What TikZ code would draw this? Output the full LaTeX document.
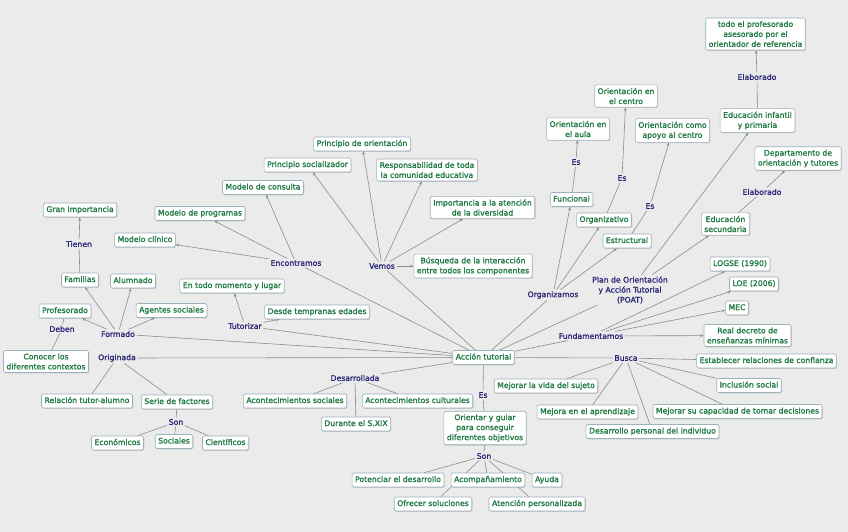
\documentclass[tikz,border=0pt]{standalone}
\usepackage{fontspec}
\setmainfont{DejaVu Sans}[FakeBold=1.5]
\usetikzlibrary{arrows.meta,shadows,backgrounds}
\definecolor{bgc}{HTML}{EBEBEB}
\definecolor{cg}{HTML}{1F7A43}
\definecolor{lb}{HTML}{2B2878}
\definecolor{bd}{HTML}{9DB0BE}
\definecolor{lnc}{HTML}{8C8C8C}
\tikzset{
 concept/.style={draw=bd, line width=0.6pt, fill=white, rounded corners=1.5pt, text=cg,
   font=\fontsize{7.7}{10}\selectfont, align=center, inner xsep=3pt, inner ysep=3pt,
   drop shadow={shadow xshift=0.8pt, shadow yshift=-0.8pt, fill=black, opacity=0.15}},
 one/.style={concept, text height=6pt, text depth=2pt},
 link/.style={text=lb, font=\fontsize{7.7}{10}\selectfont, align=center, inner sep=1.5pt},
 con/.style={draw=lnc, line width=0.6pt},
 arr/.style={con, -{Stealth[length=3.5pt,width=2.8pt]}},
}
\begin{document}
\begin{tikzpicture}[x=1pt,y=-1pt]
\useasboundingbox (0,0) rectangle (848,532);
% concepts
\node[concept] (todo) at (755.5,34) {todo el profesorado\\asesorado por el\\orientador de referencia};
\node[link] (elab1) at (757,77) {Elaborado};
\node[concept] (infantil) at (757.5,120.5) {Educación infantil\\y primaria};
\node[concept] (centro) at (626,96) {Orientación en\\el centro};
\node[concept] (aula) at (578,129) {Orientación en\\el aula};
\node[concept] (apoyo) at (672.5,130.5) {Orientación como\\apoyo al centro};
\node[concept] (depto) at (798,158.5) {Departamento de\\orientación y tutores};
\node[link] (elab2) at (762,192) {Elaborado};
\node[concept] (secundaria) at (725.5,224) {Educación\\secundaria};
\node[link] (esa) at (576,162) {Es};
\node[link] (esc) at (622,178) {Es};
\node[link] (esp) at (650,206) {Es};
\node[one] (funcional) at (571.5,199.5) {Funcional};
\node[one] (organizativo) at (604,220) {Organizativo};
\node[one] (estructural) at (627,241) {Estructural};
\node[link] (organizamos) at (553,295) {Organizamos};
\node[link] (poat) at (630,290) {Plan de Orientación\\y Acción Tutorial\\(POAT)};
\node[one] (logse) at (740,264) {LOGSE (1990)};
\node[one] (loe) at (754,284) {LOE (2006)};
\node[one] (mec) at (737,308) {MEC};
\node[concept] (real) at (747.5,335.5) {Real decreto de\\enseñanzas mínimas};
\node[link] (fund) at (591,336) {Fundamentamos};
\node[link] (busca) at (626,358) {Busca};
\node[one] (establecer) at (766.5,361) {Establecer relaciones de confianza};
\node[one] (inclusion) at (749,385.5) {Inclusión social};
\node[one] (capacidad) at (737.5,411.5) {Mejorar su capacidad de tomar decisiones};
\node[one] (desarrollo) at (652.5,431.5) {Desarrollo personal del individuo};
\node[one] (aprendizaje) at (587.5,412) {Mejora en el aprendizaje};
\node[one] (vida) at (546,386) {Mejorar la vida del sujeto};
\node[one] (at) at (483.5,357.5) {Acción tutorial};
\node[link] (es1) at (483,395) {Es};
\node[concept] (orientar) at (485,428) {Orientar y guiar\\para conseguir\\diferentes objetivos};
\node[link] (son1) at (484,456) {Son};
\node[one] (potenciar) at (398,480) {Potenciar el desarrollo};
\node[one] (acomp) at (488,480) {Acompañamiento};
\node[one] (ayuda) at (547,480) {Ayuda};
\node[one] (ofrecer) at (433,504) {Ofrecer soluciones};
\node[one] (atencion) at (537,504) {Atención personalizada};
\node[link] (desarrollada) at (355,378) {Desarrollada};
\node[one] (acsoc) at (295,401) {Acontecimientos sociales};
\node[one] (accult) at (417.5,401) {Acontecimientos culturales};
\node[one] (durante) at (356,424) {Durante el S.XIX};
\node[link] (originada) at (117,358) {Originada};
\node[one] (relacion) at (87,401) {Relación tutor-alumno};
\node[one] (serie) at (177,402) {Serie de factores};
\node[link] (son2) at (176,422) {Son};
\node[one] (economicos) at (117.5,443) {Económicos};
\node[one] (sociales) at (174,441.5) {Sociales};
\node[one] (cientificos) at (225.5,443) {Científicos};
\node[concept] (conocer) at (46,361.5) {Conocer los\\diferentes contextos};
\node[link] (deben) at (62,329) {Deben};
\node[one] (profesorado) at (65,311) {Profesorado};
\node[link] (formado) at (118,334) {Formado};
\node[one] (familias) at (80,280) {Familias};
\node[one] (alumnado) at (133,281) {Alumnado};
\node[one] (agentes) at (171.5,310.5) {Agentes sociales};
\node[link] (tienen) at (79,244) {Tienen};
\node[one] (gran) at (80,210) {Gran importancia};
\node[one] (clinico) at (145,240) {Modelo clínico};
\node[one] (programas) at (200,213.5) {Modelo de programas};
\node[one] (consulta) at (263,187.5) {Modelo de consulta};
\node[link] (encontramos) at (296,263) {Encontramos};
\node[one] (socializador) at (307.5,165) {Principio socializador};
\node[one] (orientacion) at (362,144) {Principio de orientación};
\node[concept] (respons) at (427,170) {Responsabilidad de toda\\la comunidad educativa};
\node[concept] (importancia) at (482.5,207.5) {Importancia a la atención\\de la diversidad};
\node[link] (vemos) at (382,266) {Vemos};
\node[concept] (busqueda) at (473,266) {Búsqueda de la interacción\\entre todos los componentes};
\node[one] (entodo) at (232,286) {En todo momento y lugar};
\node[one] (desde) at (317,312) {Desde tempranas edades};
\node[link] (tutorizar) at (245,326) {Tutorizar};
% connectors
\begin{pgfonlayer}{background}
\fill[bgc] (0,0) rectangle (848,532);
\foreach \n in {formado,originada,encontramos,vemos,tutorizar,organizamos,poat,fund,busca,desarrollada,es1}
  \draw[con] (at) -- (\n);
\foreach \n in {profesorado,familias,alumnado,agentes} \draw[arr] (formado) -- (\n);
\draw[con] (familias) -- (tienen);
\draw[arr] (tienen) -- (gran);
\draw[con] (profesorado) -- (deben);
\draw[con] (deben) -- (conocer);
\foreach \n in {relacion,serie} \draw[con] (originada) -- (\n);
\draw[con] (serie) -- (son2);
\foreach \n in {economicos,sociales,cientificos} \draw[con] (son2) -- (\n);
\foreach \n in {clinico,programas,consulta} \draw[arr] (encontramos) -- (\n);
\foreach \n in {socializador,orientacion,respons,importancia,busqueda} \draw[arr] (vemos) -- (\n);
\foreach \n in {entodo,desde} \draw[arr] (tutorizar) -- (\n);
\foreach \n in {funcional,organizativo,estructural} \draw[arr] (organizamos) -- (\n);
\draw[con] (funcional) -- (esa);
\draw[arr] (esa) -- (aula);
\draw[con] (organizativo) -- (esc);
\draw[arr] (esc) -- (centro);
\draw[con] (estructural) -- (esp);
\draw[arr] (esp) -- (apoyo);
\foreach \n in {infantil,secundaria} \draw[arr] (poat) -- (\n);
\draw[con] (infantil) -- (elab1);
\draw[arr] (elab1) -- (todo);
\draw[con] (secundaria) -- (elab2);
\draw[arr] (elab2) -- (depto);
\foreach \n in {logse,loe,mec,real} \draw[arr] (fund) -- (\n);
\foreach \n in {establecer,inclusion,capacidad,desarrollo,aprendizaje,vida} \draw[con] (busca) -- (\n);
\foreach \n in {acsoc,accult,durante} \draw[con] (desarrollada) -- (\n);
\draw[con] (es1) -- (orientar);
\draw[con] (orientar) -- (son1);
\foreach \n in {potenciar,acomp,ayuda,ofrecer,atencion} \draw[con] (son1) -- (\n);
\end{pgfonlayer}
\end{tikzpicture}
\end{document}
